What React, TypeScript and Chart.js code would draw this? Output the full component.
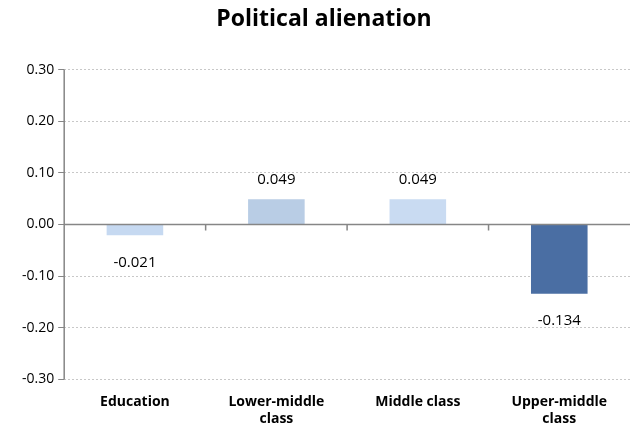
import React, { useEffect, useRef } from "react";
import { Chart, registerables } from "chart.js";
Chart.register(...registerables);

const categories = [["Education"], ["Lower-middle", "class"], ["Middle class"], ["Upper-middle", "class"]];
const values = [-0.021, 0.049, 0.049, -0.134];
const colors = ["#c6d9f1", "#b9cde5", "#c9dbf2", "#4a6ea3"];
const yTicks = [-0.3, -0.2, -0.1, 0, 0.1, 0.2, 0.3];

const FONT = "'Open Sans', 'Liberation Sans', sans-serif";

const overlay = {
  id: "overlay",
  afterDatasetsDraw(chart: any) {
    const { ctx, chartArea, scales } = chart;
    const y0 = scales.y.getPixelForValue(0);
    ctx.save();
    ctx.strokeStyle = "#868686";
    ctx.lineWidth = 1.5;
    ctx.beginPath();
    ctx.moveTo(chartArea.left, chartArea.top);
    ctx.lineTo(chartArea.left, chartArea.bottom);
    ctx.moveTo(chartArea.left, y0);
    ctx.lineTo(chartArea.right, y0);
    const n = values.length;
    const w = (chartArea.right - chartArea.left) / n;
    for (let i = 1; i < n; i++) {
      const x = chartArea.left + w * i;
      ctx.moveTo(x, y0);
      ctx.lineTo(x, y0 + 6);
    }
    ctx.stroke();
    ctx.fillStyle = "#000";
    ctx.font = `15px ${FONT}`;
    ctx.textAlign = "center";
    const meta = chart.getDatasetMeta(0);
    meta.data.forEach((bar: any, i: number) => {
      const v = values[i];
      if (v >= 0) {
        ctx.textBaseline = "bottom";
        ctx.fillText(v.toFixed(3), bar.x, bar.y - 12);
      } else {
        ctx.textBaseline = "top";
        ctx.fillText(v.toFixed(3), bar.x, bar.y + 20);
      }
    });
    ctx.restore();
  },
};

export default function App() {
  const ref = useRef<HTMLCanvasElement>(null);
  useEffect(() => {
    const chart = new Chart(ref.current!, {
      type: "bar",
      data: {
        labels: categories,
        datasets: [{ data: values, backgroundColor: colors, barPercentage: 0.4, categoryPercentage: 1 }],
      },
      options: {
        animation: false,
        responsive: false,
        layout: { padding: { left: 18, right: 14, top: 0, bottom: 4 } },
        plugins: {
          legend: { display: false },
          tooltip: { enabled: false },
          title: {
            display: true,
            text: "Political alienation",
            color: "#000",
            font: { family: FONT, size: 23, weight: "bold" },
            padding: { top: 6, bottom: 36 },
          },
        },
        scales: {
          x: {
            grid: { display: false, drawTicks: false },
            border: { display: false },
            ticks: { color: "#000", font: { family: FONT, size: 14, weight: "bold" }, padding: 14 },
          },
          y: {
            min: -0.3,
            max: 0.3,
            afterBuildTicks: (s: any) => { s.ticks = yTicks.map((v) => ({ value: v })); },
            grid: { color: "#c8c8c8", lineWidth: 1, tickLength: 6, tickColor: "#868686", drawTicks: true },
            border: { display: false, dash: [2, 2] },
            ticks: { color: "#000", font: { family: FONT, size: 14 }, padding: 4, callback: (v: any) => Number(v).toFixed(2) },
          },
        },
      } as any,
      plugins: [overlay],
    });
    return () => chart.destroy();
  }, []);
  return (
    <div style={{ position: "fixed", left: 0, top: 0, width: 644, height: 445, background: "#fff" }}>
      <canvas ref={ref} width={644} height={445} />
    </div>
  );
}
